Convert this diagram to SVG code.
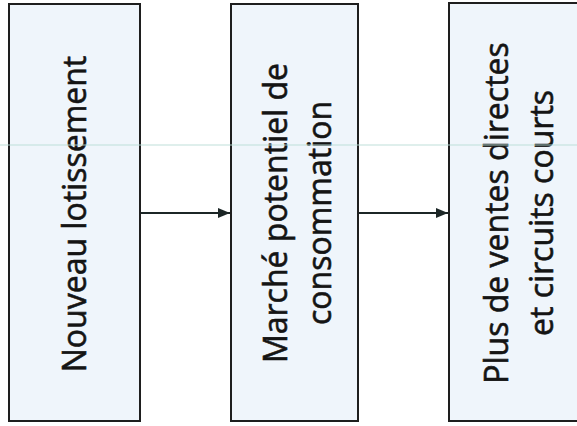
<svg xmlns="http://www.w3.org/2000/svg" width="577" height="426" viewBox="0 0 577 426">
  <style>
    .box { fill: #eff5fb; stroke: #1e1e1e; stroke-width: 2; }
    .lbl { font-family: "Open Sans", "Liberation Sans", sans-serif; font-size: 32px; fill: #141414; stroke: #141414; stroke-width: 0.6; text-anchor: middle; }
    .conn { stroke: #1c2626; stroke-width: 2; fill: none; }
  </style>
  <defs>
    <marker id="arr" viewBox="0 0 12 10" refX="12" refY="5" markerWidth="6" markerHeight="5" markerUnits="strokeWidth" orient="auto">
      <path d="M0,0 L12,5 L0,10 Z" fill="#1c2626"/>
    </marker>
  </defs>
  <rect x="0" y="0" width="577" height="426" fill="#ffffff"/>
  <g id="node1">
    <rect class="box" x="9" y="4" width="131" height="417"/>
    <text class="lbl" transform="translate(86,214) rotate(-90)">Nouveau lotissement</text>
  </g>
  <g id="node2">
    <rect class="box" x="231" y="4" width="127" height="417"/>
    <text class="lbl" transform="translate(287,213) rotate(-90)">Marché potentiel de</text>
    <text class="lbl" transform="translate(331,213) rotate(-90)">consommation</text>
  </g>
  <g id="node3">
    <rect class="box" x="449" y="3" width="140" height="418"/>
    <text class="lbl" transform="translate(508,213) rotate(-90)">Plus de ventes directes</text>
    <text class="lbl" transform="translate(553,213) rotate(-90)">et circuits courts</text>
  </g>
  <g id="connectors">
    <line class="conn" x1="141" y1="213" x2="230" y2="213" marker-end="url(#arr)"/>
    <line class="conn" x1="359" y1="213" x2="448" y2="213" marker-end="url(#arr)"/>
  </g>
  <line x1="0" y1="145" x2="577" y2="145" stroke="#b9dcd6" stroke-width="1.5" opacity="0.6"/>
</svg>
